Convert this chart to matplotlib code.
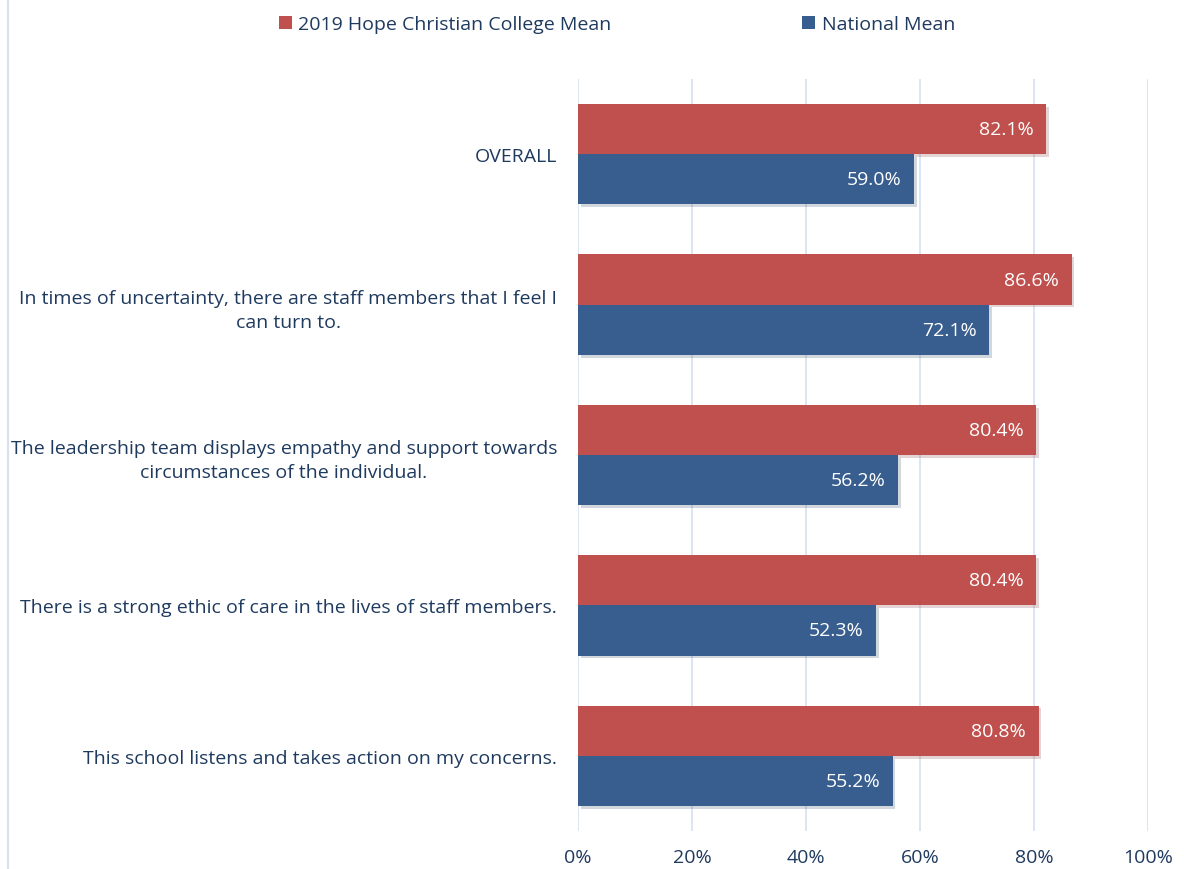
"""
Staff wellbeing survey: school mean vs national mean (horizontal bars)
"""
import numpy as np
import matplotlib
matplotlib.use('Agg')
import matplotlib.pyplot as plt
import matplotlib.patheffects as pe
from matplotlib.lines import Line2D
from matplotlib.patches import Patch

categories = [
    'OVERALL',
    'In times of uncertainty, there are staff members that I feel I\ncan turn to.',
    'The leadership team displays empathy and support towards\ncircumstances of the individual.',
    'There is a strong ethic of care in the lives of staff members.',
    'This school listens and takes action on my concerns.',
]
school_mean = [82.1, 86.6, 80.4, 80.4, 80.8]
national_mean = [59.0, 72.1, 56.2, 52.3, 55.2]
series_names = ['2019 Hope Christian College Mean', 'National Mean']
xticks = [0, 20, 40, 60, 80, 100]

RED = '#C0504D'
BLUE = '#375E8E'
TEXT = '#1F3A5F'
GRID = '#D6E2F0'
FS = 14

plt.rcParams['font.family'] = ['Open Sans', 'DejaVu Sans']
fig = plt.figure(figsize=(11.84, 8.70), dpi=100)
ax = fig.add_axes([578 / 1184, 1 - 832 / 870, 570 / 1184, 752 / 870])

y = np.arange(len(categories))
h = 1 / 3.0
shadow = [pe.SimplePatchShadow(offset=(2, -2), alpha=0.2, rho=0.6), pe.Normal()]

bars_r = ax.barh(y - h / 2, school_mean, height=h, color=RED, zorder=3)
bars_b = ax.barh(y + h / 2, national_mean, height=h, color=BLUE, zorder=3)
for b in list(bars_r) + list(bars_b):
    b.set_path_effects(shadow)

for bars, vals in ((bars_r, school_mean), (bars_b, national_mean)):
    for b, v in zip(bars, vals):
        ax.annotate('{:.1f}%'.format(v), (v, b.get_y() + b.get_height() / 2),
                    xytext=(-9, 0), textcoords='offset points',
                    ha='right', va='center', color='white', fontsize=FS,
                    zorder=4)

ax.set_xlim(0, 100)
ax.set_ylim(len(categories) - 0.5, -0.5)
ax.set_xticks(xticks)
ax.set_xticklabels(['{:d}%'.format(t) for t in xticks], color=TEXT,
                   fontsize=FS)
ax.set_yticks(y)
ax.set_yticklabels(categories, color=TEXT, fontsize=FS,
                   multialignment='center', linespacing=1.45)
ax.tick_params(axis='both', length=0)
ax.tick_params(axis='y', pad=15)
ax.tick_params(axis='x', pad=12)
ax.xaxis.grid(True, color=GRID, linewidth=1.2, zorder=0)
ax.set_axisbelow(True)
for s in ax.spines.values():
    s.set_visible(False)

handles = [Patch(facecolor=RED), Patch(facecolor=BLUE)]
leg = fig.legend(handles=handles, labels=series_names,
                 loc='center', bbox_to_anchor=(617 / 1184, 1 - 25 / 870),
                 ncol=2, frameon=False, fontsize=FS, handlelength=0.65,
                 handleheight=0.65, handletextpad=0.35, columnspacing=9.8)
for t in leg.get_texts():
    t.set_color(TEXT)

fig.add_artist(Line2D([8 / 1184, 8 / 1184], [0, 1], color=GRID,
                      linewidth=1.5, transform=fig.transFigure))

plt.savefig('out.png', dpi=100)
